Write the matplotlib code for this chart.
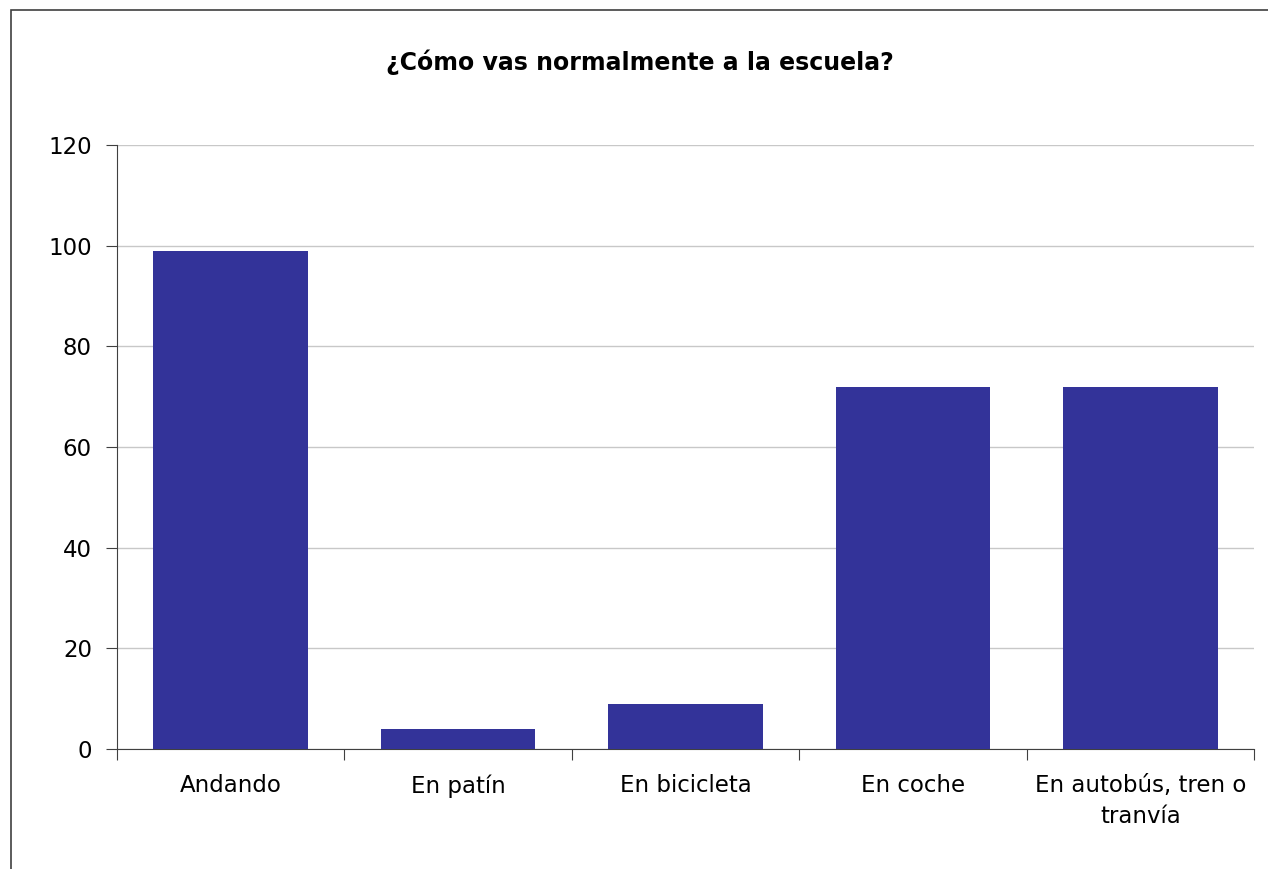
import numpy as np
import matplotlib.pyplot as plt
from matplotlib.patches import Rectangle

categorias = ['Andando', 'En patín', 'En bicicleta', 'En coche', 'En autobús, tren o\ntranvía']
valores = [99, 4, 9, 72, 72]
yticks = [0, 20, 40, 60, 80, 100, 120]

W, H = 1268, 869
fig = plt.figure(figsize=(W / 100, H / 100), dpi=100)
plt.rcParams['font.family'] = ['DejaVu Sans']

# marco exterior (solo arriba e izquierda visibles)
fig.patches.append(Rectangle((11 / W, -0.1), 1.2, 1 - 10 / H + 0.1, transform=fig.transFigure,
                             fill=False, edgecolor='#404040', linewidth=1.2))

ax = fig.add_axes([117 / W, 1 - 749 / H, (1254 - 117) / W, (749 - 145) / H])
x = np.arange(len(categorias))
ax.bar(x, valores, width=0.68, color='#333399', zorder=3)

ax.set_xlim(-0.5, len(categorias) - 0.5)
ax.set_ylim(0, 120)
ax.set_yticks(yticks)
ax.set_yticklabels([str(v) for v in yticks], fontsize=16.5)
ax.yaxis.grid(True, color='#c8c8c8', linewidth=1)
ax.set_axisbelow(True)

ax.set_xticks(np.arange(len(categorias) + 1) - 0.5)
ax.set_xticklabels([])
ax.set_xticks(x, minor=True)
ax.set_xticklabels(categorias, minor=True, fontsize=16.5, linespacing=1.45)
ax.tick_params(axis='x', which='minor', length=0, pad=18)
ax.tick_params(axis='x', which='major', length=8, direction='out', color='#404040')
ax.tick_params(axis='y', length=8, direction='out', color='#404040', pad=10)

for s in ['top', 'right']:
    ax.spines[s].set_visible(False)
for s in ['left', 'bottom']:
    ax.spines[s].set_color('#404040')

fig.text(640 / W, 1 - 62 / H, '¿Cómo vas normalmente a la escuela?', ha='center', va='center',
         fontsize=17, fontweight='bold')

fig.savefig('out.png', dpi=100)
